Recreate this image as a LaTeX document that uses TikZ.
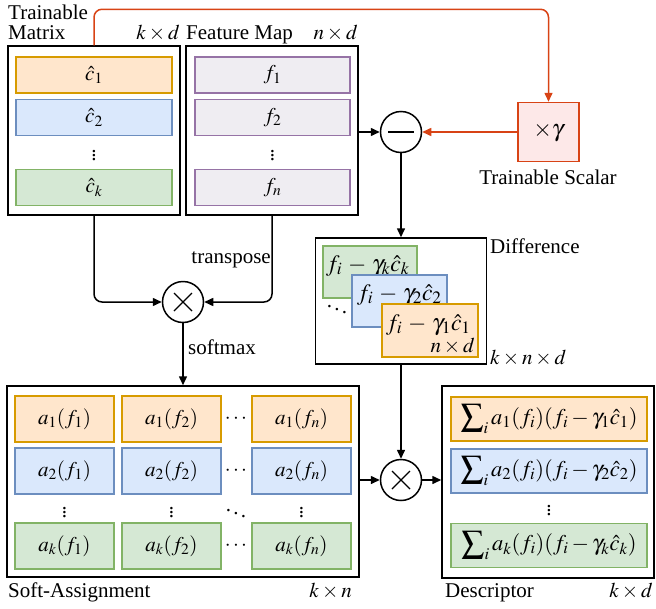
\documentclass[tikz,border=0pt]{standalone}
\usepackage{mathptmx}
\usepackage{fontspec}
\setmainfont{Liberation Serif}
\usetikzlibrary{arrows.meta}

\definecolor{corg}{HTML}{D79B00}
\definecolor{forg}{HTML}{FFE6CC}
\definecolor{cblu}{HTML}{6C8EBF}
\definecolor{fblu}{HTML}{DAE8FC}
\definecolor{cgrn}{HTML}{82B366}
\definecolor{fgrn}{HTML}{D5E8D4}
\definecolor{cpur}{HTML}{9673A6}
\definecolor{fpur}{HTML}{EFEDF2}
\definecolor{cred}{HTML}{D84315}
\definecolor{fred}{HTML}{FDE8E8}

\begin{document}
\begin{tikzpicture}[x=1pt, y=-1pt,
  font=\fontsize{21}{20}\selectfont,
  frame/.style={draw, line width=1.5pt, inner sep=0pt},
  cell/.style={draw, line width=1.2pt, inner sep=0pt},
  orgcell/.style={cell, draw=corg, fill=forg},
  blucell/.style={cell, draw=cblu, fill=fblu},
  grncell/.style={cell, draw=cgrn, fill=fgrn},
  purcell/.style={cell, draw=cpur, fill=fpur, minimum width=155pt, minimum height=36pt},
  vec/.style={minimum width=156pt, minimum height=36pt},
  sa/.style={minimum width=99pt, minimum height=46pt},
  ds/.style={minimum width=196pt, minimum height=44pt, font=\fontsize{22.5}{22}\selectfont},
  op/.style={circle, draw, line width=1.5pt, minimum size=41pt, inner sep=0pt},
  arr/.style={line width=1.5pt, -{Triangle[length=9pt,width=8pt]}},
  redarr/.style={arr, draw=cred},
  lab/.style={inner sep=0pt},
  difftxt/.style={lab, font=\fontsize{23.5}{22}\selectfont}]
  \useasboundingbox (0,0) rectangle (656,608);

  % trainable matrix and feature map
  \node[frame, minimum width=172pt, minimum height=169pt] (tm) at (94,130.5) {};
  \node[orgcell, vec] (c1) at (94,75) {$\hat{c}_1$};
  \node[blucell, vec] (c2) at (94,117.5) {$\hat{c}_2$};
  \node (cdots) at (94,153) {$\vdots$};
  \node[grncell, vec] (ck) at (94,187.5) {$\hat{c}_k$};
  \node[lab, anchor=north west, align=left] (tmlab) at (8,5) {Trainable\\Matrix};
  \node[lab, anchor=base east] (tmdim) at (180,39) {$k\times d$};

  \node[frame, minimum width=172pt, minimum height=169pt] (fm) at (272,130.5) {};
  \node[purcell] (f1) at (272.5,75) {$f_1$};
  \node[purcell] (f2) at (272.5,117.5) {$f_2$};
  \node (fdots) at (272.5,153) {$\vdots$};
  \node[purcell] (fn) at (272.5,187.5) {$f_n$};
  \node[lab, anchor=base west] (fmlab) at (186,39) {Feature Map};
  \node[lab, anchor=base east] (fmdim) at (358,39) {$n\times d$};

  % trainable scalar
  \node[draw=cred, fill=fred, line width=1.5pt, minimum width=61pt, minimum height=59pt,
    font=\fontsize{24}{24}\selectfont] (gam) at (548.5,132) {$\times\gamma$};
  \node[lab, anchor=base] (gamlab) at (548,184) {Trainable Scalar};

  % operators
  \node[op] (sub) at (401,132) {};
  \draw[line width=1.3pt] ([xshift=-13pt]sub.center) -- ([xshift=13pt]sub.center);
  \node[op] (mul1) at (183,302) {};
  \node[op] (mul2) at (401,480) {};
  \foreach \m in {mul1,mul2}
    \draw[line width=1.3pt] ([shift={(-9,-9)}]\m.center) -- ([shift={(9,9)}]\m.center)
      ([shift={(-9,9)}]\m.center) -- ([shift={(9,-9)}]\m.center);

  % difference
  \node[frame, minimum width=171pt, minimum height=126pt] (diff) at (401,301) {};
  \node[grncell, minimum width=94pt, minimum height=52pt] (dk) at (370,272) {};
  \node[difftxt, anchor=base west] (dktxt) at (326,271) {$f_i\mskip2mu-\mskip2mu\gamma_k\hat{c}_k$};
  \node[blucell, minimum width=95pt, minimum height=52pt] (d2) at (399.5,301) {};
  \node[difftxt, anchor=base west] (d2txt) at (357,300) {$f_i\mskip2mu-\mskip2mu\gamma_2\hat{c}_2$};
  \node[orgcell, minimum width=96pt, minimum height=53pt] (d1) at (430,330.5) {};
  \node[difftxt, anchor=base west] (d1txt) at (386,330) {$f_i\mskip2mu-\mskip2mu\gamma_1\hat{c}_1$};
  \node[lab, anchor=base east] (d1dim) at (475,352) {$n\times d$};
  \node (ddots) at (337,306) {$\ddots$};
  \node[lab, anchor=base west] (difflab) at (490,253) {Difference};
  \node[lab, anchor=base west] (diffdim) at (490,364) {$k\times n\times d$};

  % soft-assignment
  \node[frame, minimum width=352pt, minimum height=191pt] (sa) at (183,481.5) {};
  \foreach \r/\y/\s in {1/419/orgcell,2/471/blucell,k/546/grncell}{
    \foreach \c/\x in {1/64.5,2/171.5,n/301.5}
      \node[\s, sa] (a\r\c) at (\x,\y) {$a_\r(f_\c)$};
    \node (h\r) at (236,\y) {$\cdots$};
  }
  \foreach \c/\x in {1/64.5,2/171.5,n/301.5}
    \node (v\c) at (\x,510) {$\vdots$};
  \node (adots) at (236,510) {$\ddots$};
  \node[lab, anchor=base west] (salab) at (8,597) {Soft-Assignment};
  \node[lab, anchor=base east] (sadim) at (352,597) {$k\times n$};

  % descriptor
  \node[frame, minimum width=212pt, minimum height=192pt] (desc) at (548,482) {};
  \node[orgcell, ds] (v1) at (549,419) {$\displaystyle\sum\nolimits_i a_1(f_i)(f_i-\gamma_1\hat{c}_1)$};
  \node[blucell, ds] (v2) at (549,471) {$\displaystyle\sum\nolimits_i a_2(f_i)(f_i-\gamma_2\hat{c}_2)$};
  \node (vdots) at (549,508) {$\vdots$};
  \node[grncell, ds] (vk) at (549,545.5) {$\displaystyle\sum\nolimits_i a_k(f_i)(f_i-\gamma_k\hat{c}_k)$};
  \node[lab, anchor=base west] (desclab) at (445,597) {Descriptor};
  \node[lab, anchor=base east] (descdim) at (653,597) {$k\times d$};

  % connectors
  \draw[redarr, rounded corners=8pt] (tm.north) -- ++(0,-36) -| (gam.north);
  \draw[redarr] (gam.west) -- (sub.east);
  \draw[arr] (fm.east |- sub.west) -- (sub.west);
  \draw[arr] (sub.south) -- (diff.north);
  \draw[arr, rounded corners=8pt] (tm.south) |- (mul1.west);
  \draw[arr, rounded corners=8pt] (fm.south) |- (mul1.east);
  \node[lab, anchor=base east] (tplab) at (271,263) {transpose};
  \draw[arr] (mul1.south) -- (sa.north);
  \node[lab, anchor=base west] (smlab) at (188,354) {softmax};
  \draw[arr] (diff.south) -- (mul2.north);
  \draw[arr] (sa.east |- mul2.west) -- (mul2.west);
  \draw[arr] (mul2.east) -- (desc.west |- mul2.east);
\end{tikzpicture}
\end{document}
